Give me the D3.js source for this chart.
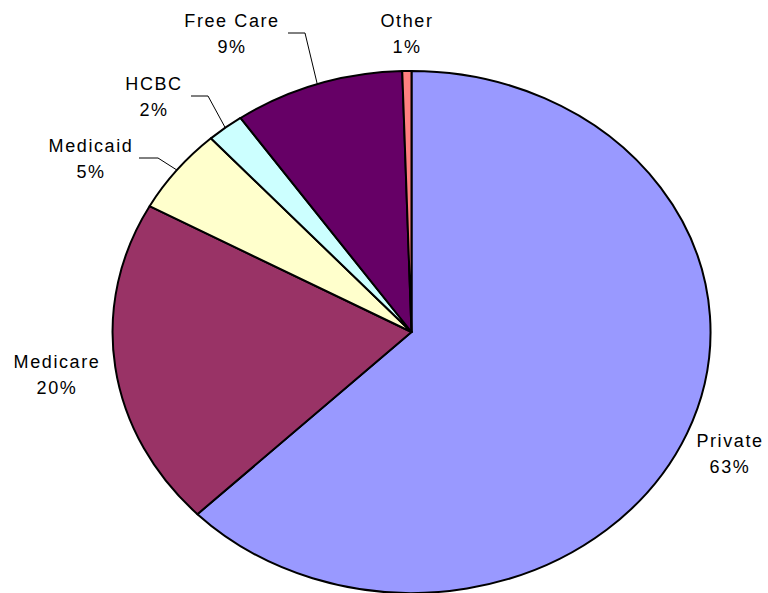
<!DOCTYPE html>
<html>
<head>
<meta charset="utf-8">
<script src="https://cdnjs.cloudflare.com/ajax/libs/d3/7.8.5/d3.min.js"></script>
<style>
  html, body { margin: 0; padding: 0; background: #fff; }
  svg { display: block; }
  .lbl { font-family: Arial, "Liberation Sans", sans-serif; font-size: 18px; letter-spacing: 1.6px; fill: #000; }
</style>
</head>
<body>
<svg id="chart"></svg>
<script>
// chart data
const categories = ['Private', 'Medicare', 'Medicaid', 'HCBC', 'Free Care', 'Other'];
const values = [62.7, 20.3, 5.3, 2.0, 9.2, 0.5];
const colors = ['#9999FF', '#993366', '#FFFFCC', '#CCFFFF', '#660066', '#FF8080'];

// where each label sits (center x, first baseline) and whether it gets a leader line
const labelLayout = {
  'Private':   { x: 730, y: 447, leader: false },
  'Medicare':  { x: 57,  y: 368, leader: false },
  'Medicaid':  { x: 91,  y: 152, leader: true, lx: 139, hx: 158 },
  'HCBC':      { x: 154, y: 90,  leader: true, lx: 191, hx: 208 },
  'Free Care': { x: 232, y: 27,  leader: true, lx: 288, hx: 305 },
  'Other':     { x: 407, y: 27,  leader: false }
};

const width = 768, height = 593;
const cx = 411.5, cy = 332, rx = 299, ry = 261;

const svg = d3.select('#chart')
  .attr('width', width)
  .attr('height', height);

const data = categories.map((c, i) => ({ name: c, value: values[i], color: colors[i] }));

const pie = d3.pie()
  .sort(null)
  .value(d => d.value);

const arcs = pie(data);

// unit arc, stretched into an ellipse
const arc = d3.arc().innerRadius(0).outerRadius(1);

const g = svg.append('g')
  .attr('transform', `translate(${cx},${cy}) scale(${rx},${ry})`);

g.selectAll('path')
  .data(arcs)
  .enter()
  .append('path')
  .attr('d', arc)
  .attr('fill', d => d.data.color)
  .attr('stroke', '#000')
  .attr('stroke-width', 2)
  .attr('stroke-linejoin', 'round')
  .attr('vector-effect', 'non-scaling-stroke');

// point on the ellipse edge at the middle of a slice
const edgePoint = d => {
  const a = (d.startAngle + d.endAngle) / 2;
  return [cx + Math.sin(a) * rx, cy - Math.cos(a) * ry];
};

const total = d3.sum(values);

arcs.forEach(d => {
  const L = labelLayout[d.data.name];
  const pct = Math.round(d.data.value / total * 100) + '%';

  const t = svg.append('text')
    .attr('class', 'lbl')
    .attr('text-anchor', 'middle')
    .attr('x', L.x)
    .attr('y', L.y);
  t.append('tspan').attr('x', L.x).text(d.data.name);
  t.append('tspan').attr('x', L.x).attr('dy', 26).text(pct);

  if (L.leader) {
    const p = edgePoint(d);
    const ly = L.y + 6;
    svg.append('polyline')
      .attr('points', `${L.lx},${ly} ${L.hx},${ly} ${p[0]},${p[1]}`)
      .attr('fill', 'none')
      .attr('stroke', '#000')
      .attr('stroke-width', 1);
  }
});
</script>
</body>
</html>
